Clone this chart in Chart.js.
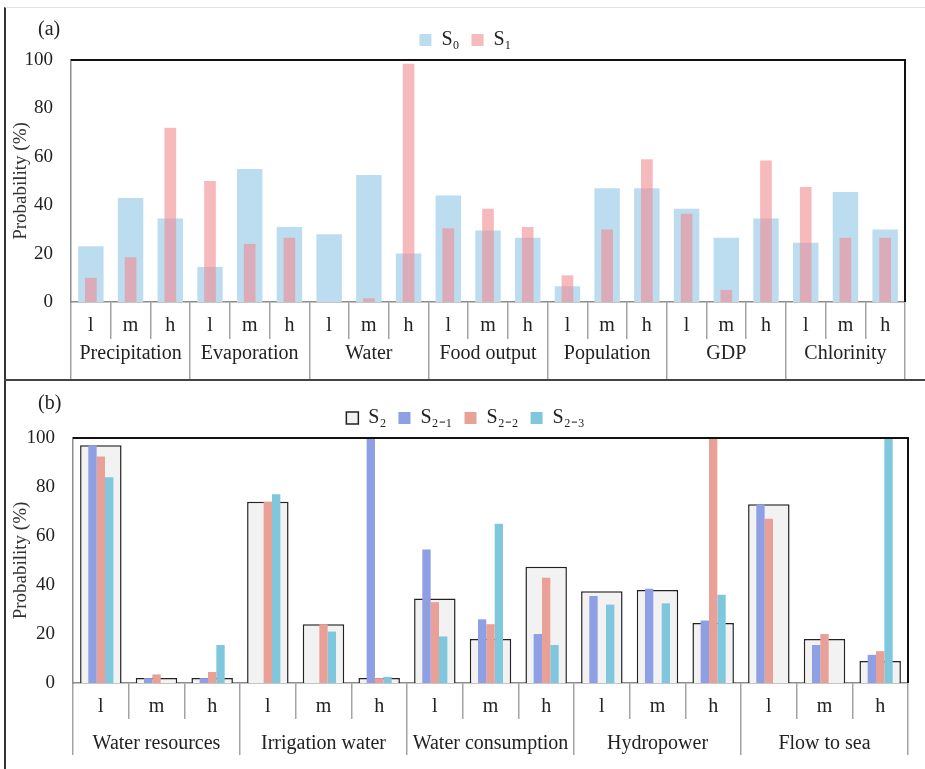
<!DOCTYPE html>
<html lang="en">
<head>
<meta charset="UTF-8">
<title>Probability of states under scenarios</title>
<script src="https://cdn.jsdelivr.net/npm/chart.js@4.4.9/dist/chart.umd.js"></script>
<style>
  body { margin: 0; background: #fff; font-family: "Liberation Serif", "Times New Roman", serif; }
  .frame { position: absolute; left: 4px; top: 7px; width: 919px; height: 762px; border-left: 2px solid #333; border-top: 1px solid #e2e2e2; }
  .divider { position: absolute; left: 4px; top: 379px; width: 921px; height: 2px; background: #444; }
  .panel { position: absolute; left: 6px; width: 919px; }
  #panel-a { top: 8px; height: 371px; }
  #panel-b { top: 381px; height: 388px; }
  .tag { position: absolute; left: 38px; font-size: 20px; line-height: 20px; color: #222; z-index: 2; }
</style>
</head>
<body>
<div class="frame"></div>
<div class="divider"></div>
<div class="tag" style="top:18px">(a)</div>
<div class="tag" style="top:392px">(b)</div>
<div class="panel" id="panel-a"><canvas id="chart-a"></canvas></div>
<div class="panel" id="panel-b"><canvas id="chart-b"></canvas></div>

<script>
const levels = ['l', 'm', 'h'];

// panel (a)
const groupsA = ['Precipitation', 'Evaporation', 'Water', 'Food output', 'Population', 'GDP', 'Chlorinity'];
const s0 = [23, 43, 34.5, 14.5, 55, 31, 28, 52.5, 20, 44, 29.5, 26.5, 6.5, 47, 47, 38.5, 26.5, 34.5, 24.5, 45.5, 30];
const s1 = [10, 18.5, 72, 50, 24, 26.5, 0, 1.5, 98.5, 30.5, 38.5, 31, 11, 30, 59, 36.5, 5, 58.5, 47.5, 26.5, 26.5];

// panel (b)
const groupsB = ['Water resources', 'Irrigation water', 'Water consumption', 'Hydropower', 'Flow to sea'];
const s2  = [97, 2, 2, 74, 24, 2, 34.5, 18, 47.5, 37.5, 38, 24.5, 73, 18, 9];
const s21 = [97, 2, 2, 0, 0, 100, 54.5, 26, 20, 35.5, 38.5, 25.5, 73, 15.5, 11.5];
const s22 = [92.5, 3.5, 4.5, 74, 24, 2, 33, 24, 43, 0, 0, 100, 67, 20, 13];
const s23 = [84, 0, 15.5, 77, 21, 2.5, 19, 65, 15.5, 32, 32.5, 36, 0, 0, 100];

const serif = '"Liberation Serif", "Times New Roman", serif';
const lineGray = '#a3a3a3';

// black frame on top and right of the plot area
const frameLines = {
  id: 'frameLines',
  afterDatasetsDraw(chart) {
    const { ctx, chartArea: a } = chart;
    ctx.save();
    ctx.strokeStyle = '#111';
    ctx.lineWidth = 2;
    ctx.beginPath();
    ctx.moveTo(a.left, a.top);
    ctx.lineTo(a.right, a.top);
    ctx.lineTo(a.right, a.bottom);
    ctx.stroke();
    ctx.restore();
  }
};

function makeScales(groups, o) {
  return {
    x: {
      type: 'category', position: 'bottom', weight: 0, offset: true,
      grid: { offset: true, drawOnChartArea: false, color: lineGray, lineWidth: 1.5, tickLength: o.subH },
      border: { color: '#8c8c8c', width: 1.5 },
      ticks: { autoSkip: false, maxRotation: 0, padding: o.subPad, color: '#222', font: { family: serif, size: 20 } },
      afterFit: s => { s.height = o.subH; }
    },
    groups: {
      type: 'category', labels: groups, position: 'bottom', weight: 1, offset: true,
      grid: { offset: true, drawOnChartArea: false, color: lineGray, lineWidth: 1.5, tickLength: o.grpH },
      border: { display: false },
      ticks: { autoSkip: false, maxRotation: 0, padding: o.grpPad, color: '#222', font: { family: serif, size: 20 } },
      afterFit: s => { s.height = o.grpH; }
    },
    y: {
      min: 0, max: 100,
      grid: { display: false, drawTicks: false },
      border: { color: '#8c8c8c', width: 1.5 },
      ticks: { stepSize: 20, padding: 18, color: '#222', font: { family: serif, size: 19 } },
      title: { display: true, text: 'Probability (%)', color: '#333', font: { family: serif, size: 19 } },
      afterFit: s => { s.width = o.yW; }
    },
    pad: {
      type: 'linear', position: 'right', display: true,
      grid: { display: false, drawTicks: false }, border: { display: false },
      ticks: { display: false },
      afterFit: s => { s.width = o.rightW; }
    }
  };
}

function legendOpts() {
  return {
    position: 'top',
    labels: {
      color: '#222', font: { family: serif, size: 20 },
      boxWidth: 12, boxHeight: 12, padding: 12,
      sort: (a, b) => a.datasetIndex - b.datasetIndex
    }
  };
}

new Chart(document.getElementById('chart-a'), {
  type: 'bar',
  data: {
    labels: groupsA.flatMap(() => levels),
    datasets: [
      { label: 'S₀', data: s0, backgroundColor: '#bcdcf0', grouped: false, order: 2,
        categoryPercentage: 1, barPercentage: 0.64 },
      { label: 'S₁', data: s1, backgroundColor: 'rgba(240,140,145,0.6)', grouped: false, order: 1,
        categoryPercentage: 1, barPercentage: 0.295 }
    ]
  },
  options: {
    responsive: true,
    maintainAspectRatio: false,
    animation: false,
    layout: { padding: { top: 10, right: 0, bottom: 0, left: 0 } },
    plugins: { legend: legendOpts(), tooltip: { enabled: false } },
    scales: makeScales(groupsA, { subH: 37, subPad: -25.7, grpH: 40, grpPad: -37.7, yW: 65, rightW: 20 })
  },
  plugins: [frameLines]
});

new Chart(document.getElementById('chart-b'), {
  type: 'bar',
  data: {
    labels: groupsB.flatMap(() => levels),
    datasets: [
      { label: 'S₂', data: s2, backgroundColor: '#f2f2f2', borderColor: '#222', borderWidth: 1.5,
        grouped: false, order: 2, categoryPercentage: 1, barPercentage: 0.745 },
      { label: 'S₂₋₁', data: s21, backgroundColor: '#8f9fe3', order: 1, categoryPercentage: 0.45, barPercentage: 1 },
      { label: 'S₂₋₂', data: s22, backgroundColor: '#e9a097', order: 1, categoryPercentage: 0.45, barPercentage: 1 },
      { label: 'S₂₋₃', data: s23, backgroundColor: '#7fc7dd', order: 1, categoryPercentage: 0.45, barPercentage: 1 }
    ]
  },
  options: {
    responsive: true,
    maintainAspectRatio: false,
    animation: false,
    layout: { padding: { top: 15, right: 0, bottom: 14, left: 0 } },
    plugins: { legend: legendOpts(), tooltip: { enabled: false } },
    scales: makeScales(groupsB, { subH: 36, subPad: -24, grpH: 36, grpPad: -23, yW: 67, rightW: 17 })
  },
  plugins: [frameLines]
});
</script>
</body>
</html>
